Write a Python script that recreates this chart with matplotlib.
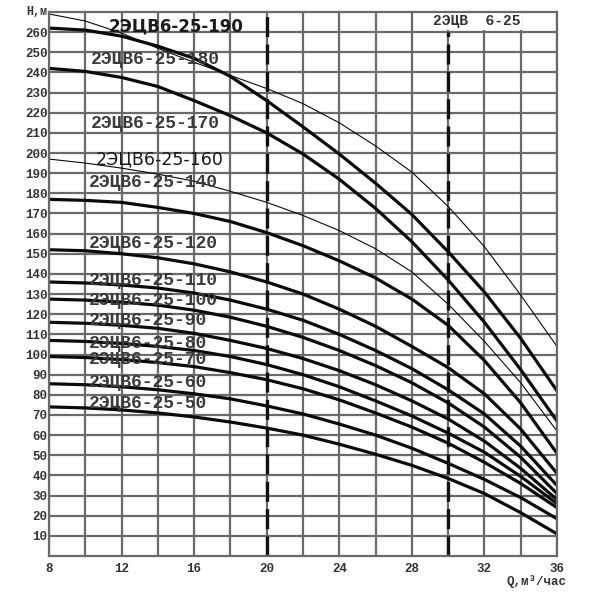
import numpy as np
import matplotlib.pyplot as plt

# flow, m3/h
q = [8, 10, 12, 14, 16, 18, 20, 22, 24, 26, 28, 30, 32, 34, 36]

# head curves (H, m)
h190 = [269, 265.5, 259.5, 252, 245, 238.5, 232, 224.5, 215, 203.5, 190.5, 173.5, 153.5, 129.5, 104]
h180 = [262, 261, 258, 253, 247, 238, 226, 213, 199.5, 185, 169.5, 151, 131, 108, 82]
h170 = [242, 240.5, 237.5, 233, 226, 218.5, 210, 199.5, 187, 172.5, 156, 137, 116, 92.5, 67]
h160 = [197, 195, 192.5, 189.5, 186, 181, 175.5, 169, 161.5, 152.5, 141, 125, 106.5, 86, 62]
h140 = [177, 176.5, 175.5, 173, 170, 166, 160.5, 154, 146.5, 138, 127.5, 114.5, 97, 76, 51]
h120 = [152, 151.5, 150, 148, 145, 141, 136, 130, 122.5, 114, 104, 93.5, 80.5, 63, 41]
h110 = [136, 135.5, 134.5, 133, 130.5, 127, 122.5, 117, 110, 102, 93, 82.5, 70.5, 54.5, 35]
h100 = [127.5, 127, 126, 124.5, 122, 118.5, 114, 108.5, 102, 94.5, 86, 76, 64, 49, 31]
h90 = [116, 115.5, 114.5, 113, 110.5, 107, 103, 98, 92, 85, 77, 68, 57, 43.5, 28]
h80 = [107, 106.5, 105.5, 104, 102, 99, 95, 90, 84, 77, 69.5, 61, 51.5, 39.5, 26]
h70 = [99, 98.5, 97.5, 96, 94, 91, 87.5, 83, 77.5, 71, 64, 56, 46.5, 36, 24]
h60 = [85.5, 85, 84, 82.5, 80.5, 78, 74.5, 70.5, 65.5, 60, 53.5, 46, 38, 29, 18.5]
h50 = [74, 73.5, 72.5, 71, 69, 66.5, 63.5, 60, 55.5, 50.5, 45, 38.5, 31, 21.5, 11]

thick = [h180, h170, h140, h120, h110, h100, h90, h80, h70, h60, h50]
thin = [h190, h160]

# label text, x, y (left edge, centre)
labels_mono = [
    ("2ЭЦВ6-25-180", 10.3, 246.5),
    ("2ЭЦВ6-25-170", 10.3, 214.5),
    ("2ЭЦВ6-25-140", 10.2, 185.5),
    ("2ЭЦВ6-25-120", 10.2, 155),
    ("2ЭЦВ6-25-110", 10.2, 136.5),
    ("2ЭЦВ6-25-100", 10.2, 126.8),
    ("2ЭЦВ6-25-90", 10.2, 116.8),
    ("2ЭЦВ6-25-80", 10.2, 105.6),
    ("2ЭЦВ6-25-70", 10.2, 97.3),
    ("2ЭЦВ6-25-60", 10.2, 86),
    ("2ЭЦВ6-25-50", 10.2, 75.7),
]

fig = plt.figure(figsize=(6, 5.98), dpi=100)
ax = fig.add_axes([0.0817, 0.0702, 0.8466, 0.9098])
ax.set_xlim(8, 36)
ax.set_ylim(0, 270)

gc = '#6a6a6a'
ax.set_xticks(range(8, 37, 4))
ax.set_xticks(range(8, 37, 2), minor=True)
ax.set_yticks(range(10, 261, 10))
ax.grid(True, which='both', color=gc, lw=1.6, zorder=1)
for s in ax.spines.values():
    s.set_color(gc)
    s.set_linewidth(1.6)
    s.set_zorder(6)
ax.tick_params(which='both', length=0)
ax.tick_params(axis='y', pad=1)
ax.tick_params(axis='x', pad=5)
for t in ax.get_xticklabels() + ax.get_yticklabels():
    t.set_family('Liberation Mono')
    t.set_fontweight('bold')
    t.set_fontsize(9)
    t.set_color('#333333')

# pump selection limits
ax.plot([20, 20], [0, 270], color='#111111', lw=2.4, ls=(0, (6, 2.2)), zorder=3)
ax.plot([30, 30], [0, 260], color='#111111', lw=2.4, ls=(0, (6, 2.2)), zorder=3)

for h in thick:
    ax.plot(q, h, color='#0a0a0a', lw=2.3, zorder=4, solid_joinstyle='round')
for h in thin:
    ax.plot(q, h, color='#0a0a0a', lw=0.8, zorder=4)

for txt, x, y in labels_mono:
    ax.text(x, y, txt, family='Liberation Mono', fontweight='bold', fontsize=13,
            color='#3a3a3a', va='center', ha='left', zorder=5)
ax.text(11.3, 263, "2ЭЦВ6-25-190", family='DejaVu Sans', fontweight='bold',
        fontsize=12, color='#1a1a1a', va='center', ha='left', zorder=5)
ax.text(10.6, 196.8, "2ЭЦВ6-25-160", family='DejaVu Sans', fontsize=12.5,
        color='#1a1a1a', va='center', ha='left', zorder=5)

ax.text(31.6, 265.3, "2ЭЦВ  6-25", family='Liberation Mono', fontweight='bold',
        fontsize=10.5, color='#333333', va='center', ha='center', zorder=5,
        bbox=dict(facecolor='white', edgecolor='none', pad=0.8))

ax.text(7.9, 270, "H,м", family='Liberation Mono', fontweight='bold', fontsize=8.5,
        color='#333333', va='center', ha='right')
ax.text(36.55, -12.5, "Q,м³/час", family='Liberation Mono', fontweight='bold', fontsize=9,
        color='#333333', va='center', ha='right', clip_on=False)

fig.savefig('out.png', dpi=100)
